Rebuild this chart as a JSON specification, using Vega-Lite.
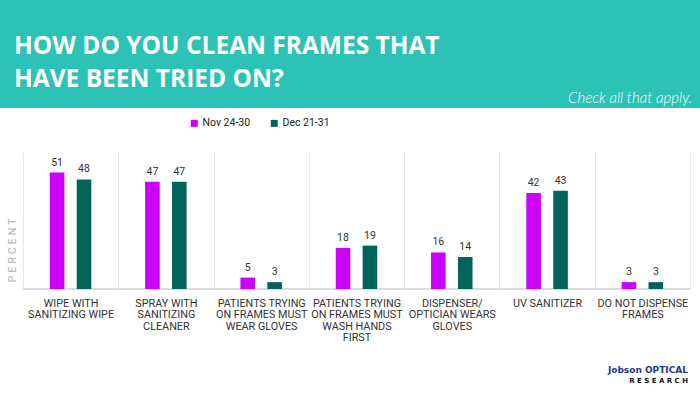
{
  "$schema": "https://vega.github.io/schema/vega-lite/v6.json",
  "padding": 0,
  "background": "white",
  "spacing": 44,
  "bounds": "flush",
  "title": {
    "text": "Jobson OPTICAL",
    "subtitle": "R E S E A R C H",
    "orient": "bottom",
    "anchor": "end",
    "offset": 24,
    "dx": -12,
    "font": "DejaVu Sans",
    "fontSize": 9,
    "fontWeight": "bold",
    "color": "#1c3a8c",
    "subtitleFont": "DejaVu Sans",
    "subtitleFontSize": 7,
    "subtitleFontWeight": "bold",
    "subtitleColor": "#111111",
    "subtitlePadding": 2
  },
  "vconcat": [
    {
      "width": 700,
      "height": 108,
      "title": {
        "text": ["HOW DO YOU CLEAN FRAMES THAT", "HAVE BEEN TRIED ON?"],
        "anchor": "start",
        "frame": "group",
        "orient": "top",
        "offset": 0,
        "dx": 14,
        "dy": 111,
        "baseline": "alphabetic",
        "font": "Open Sans",
        "fontSize": 24.5,
        "fontWeight": "bold",
        "color": "white",
        "lineHeight": 33
      },
      "data": {"values": [{"note": "Check all that apply."}]},
      "layer": [
        {
          "mark": {"type": "rect", "color": "#2cc2b5"},
          "encoding": {
            "x": {"value": 0},
            "x2": {"value": "width"},
            "y": {"value": 0},
            "y2": {"value": "height"}
          }
        },
        {
          "mark": {
            "type": "text",
            "align": "right",
            "baseline": "alphabetic",
            "dx": -8,
            "dy": -5,
            "font": "Lato",
            "fontStyle": "italic",
            "fontWeight": 300,
            "fontSize": 15,
            "color": "white"
          },
          "encoding": {
            "text": {"field": "note"},
            "x": {"value": "width"},
            "y": {"value": "height"}
          }
        }
      ]
    },
    {
      "width": 700,
      "height": 137,
      "data": {
        "values": [
          {"cat": "WIPE WITH|SANITIZING WIPE", "period": "Nov 24-30", "value": 51},
          {"cat": "WIPE WITH|SANITIZING WIPE", "period": "Dec 21-31", "value": 48},
          {"cat": "SPRAY WITH|SANITIZING|CLEANER", "period": "Nov 24-30", "value": 47},
          {"cat": "SPRAY WITH|SANITIZING|CLEANER", "period": "Dec 21-31", "value": 47},
          {"cat": "PATIENTS TRYING|ON FRAMES MUST|WEAR GLOVES", "period": "Nov 24-30", "value": 5},
          {"cat": "PATIENTS TRYING|ON FRAMES MUST|WEAR GLOVES", "period": "Dec 21-31", "value": 3},
          {"cat": "PATIENTS TRYING|ON FRAMES MUST|WASH HANDS|FIRST", "period": "Nov 24-30", "value": 18},
          {"cat": "PATIENTS TRYING|ON FRAMES MUST|WASH HANDS|FIRST", "period": "Dec 21-31", "value": 19},
          {"cat": "DISPENSER/|OPTICIAN WEARS|GLOVES", "period": "Nov 24-30", "value": 16},
          {"cat": "DISPENSER/|OPTICIAN WEARS|GLOVES", "period": "Dec 21-31", "value": 14},
          {"cat": "UV SANITIZER", "period": "Nov 24-30", "value": 42},
          {"cat": "UV SANITIZER", "period": "Dec 21-31", "value": 43},
          {"cat": "DO NOT DISPENSE|FRAMES", "period": "Nov 24-30", "value": 3},
          {"cat": "DO NOT DISPENSE|FRAMES", "period": "Dec 21-31", "value": 3}
        ]
      },
      "encoding": {
        "x": {
          "field": "cat",
          "type": "nominal",
          "sort": null,
          "scale": {"paddingInner": 0, "paddingOuter": 0.1725, "align": 0.697},
          "axis": {
            "title": null,
            "labelExpr": "split(datum.label, '|')",
            "labelAngle": 0,
            "labelFont": "Roboto",
            "labelFontSize": 10.8,
            "labelColor": "#333333",
            "labelLineHeight": 11.5,
            "labelBaseline": "top",
            "labelPadding": 8,
            "labelLimit": 0,
            "ticks": false,
            "domain": false,
            "grid": true,
            "gridColor": "#e6e6e6",
            "gridWidth": 1,
            "tickBand": "extent"
          }
        }
      },
      "layer": [
        {
          "mark": {"type": "rect", "fill": null, "stroke": "#d9d9d9", "strokeWidth": 1},
          "encoding": {
            "y": {"datum": 0, "type": "quantitative"},
            "y2": {"datum": 0}
          }
        },
        {
          "mark": {"type": "bar"},
          "encoding": {
            "xOffset": {
              "field": "period",
              "type": "nominal",
              "scale": {"domain": ["Nov 24-30", "Dec 21-31"], "paddingInner": 0.458, "paddingOuter": 1.215}
            },
            "y": {
              "field": "value",
              "type": "quantitative",
              "scale": {"domain": [0, 60]},
              "axis": {
                "title": "P E R C E N T",
                "labels": false,
                "ticks": false,
                "domain": false,
                "grid": false,
                "titleX": 12,
                "titleY": 98,
                "titleAngle": -90,
                "titleBaseline": "middle",
                "titleAlign": "center",
                "titleFont": "Roboto",
                "titleFontSize": 11,
                "titleFontWeight": "normal",
                "titleColor": "#b3b3b3"
              }
            },
            "color": {
              "field": "period",
              "type": "nominal",
              "scale": {"domain": ["Nov 24-30", "Dec 21-31"], "range": ["#cc00ff", "#006459"]},
              "legend": {
                "title": null,
                "orient": "none",
                "legendX": 189,
                "legendY": 118,
                "direction": "horizontal",
                "symbolType": "square",
                "symbolSize": 49,
                "symbolStrokeWidth": 0,
                "labelFont": "Roboto",
                "labelFontSize": 10.5,
                "labelColor": "#222222",
                "labelOffset": 3,
                "columnPadding": 18
              }
            }
          }
        },
        {
          "mark": {"type": "text", "baseline": "bottom", "dy": -5, "font": "Roboto", "fontSize": 10.5, "color": "#333333"},
          "encoding": {
            "xOffset": {"field": "period", "type": "nominal"},
            "y": {"field": "value", "type": "quantitative"},
            "text": {"field": "value", "type": "quantitative"}
          }
        }
      ]
    }
  ],
  "config": {
    "view": {"stroke": null}
  }
}
